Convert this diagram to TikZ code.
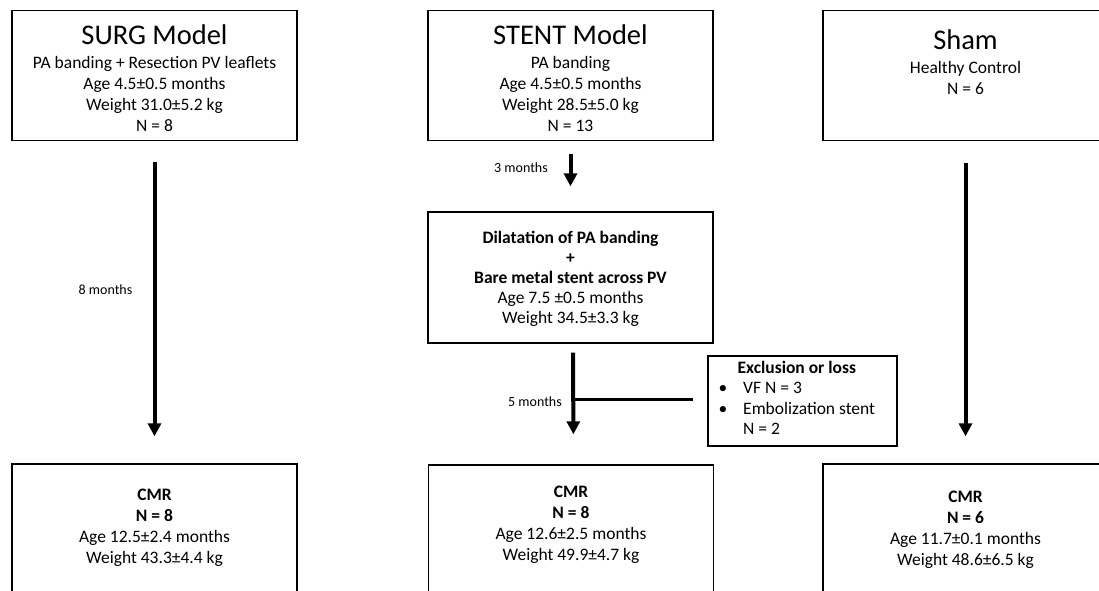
\documentclass[tikz,border=0pt]{standalone}
\usepackage{fontspec}
\setmainfont{Carlito}
\usetikzlibrary{arrows.meta,positioning}

\newcommand\grouptitle[1]{{\fontsize{28.5}{30}\selectfont #1}}

\begin{document}
\begin{tikzpicture}[x=1pt,y=-1pt]
\useasboundingbox (0,0) rectangle (1099,590);
\clip (0,0) rectangle (1099,590);

% boxes
\begin{scope}[every node/.style={draw,line width=1.4pt,minimum width=285,minimum height=130,inner sep=0pt}]
    \node (surg)  at (154.5,75.5) {};
    \node (stent) at (570.5,75.5) {};
    \node (sham)  at (965.5,75.5) {};
    \node (dil)   at (570.5,277.5) [minimum height=131] {};
    \node (excl)  at (802.5,401) [minimum width=189,minimum height=90] {};
    \node (cmr1)  at (154.5,543) [minimum height=158] {};
    \node (cmr2)  at (571,544) [minimum height=158] {};
    \node (cmr3)  at (965.5,543) [minimum height=158] {};
\end{scope}

% box texts
\begin{scope}[every node/.style={font=\fontsize{17.5}{21}\selectfont,align=center,inner sep=0pt}]
    \node [below=15pt of surg.north] (surgtxt) {\grouptitle{SURG Model}\\[2.5pt]
        PA banding + Resection PV leaflets\\ Age 4.5±0.5 months\\ Weight 31.0±5.2 kg\\ N = 8};
    \node [below=15pt of stent.north] (stenttxt) {\grouptitle{STENT Model}\\[2.5pt]
        PA banding\\ Age 4.5±0.5 months\\ Weight 28.5±5.0 kg\\ N = 13};
    \node [below=20pt of sham.north] (shamtxt) {\grouptitle{Sham}\\[3pt]
        Healthy Control\\ N = 6};
    \node [below=20pt of dil.north,font=\fontsize{17.5}{20}\selectfont] (diltxt)
        {\textbf{Dilatation of PA banding}\\ \textbf{+}\\ \textbf{Bare metal stent across PV}\\
         Age 7.5 ±0.5 months\\ Weight 34.5±3.3 kg};
    \node [below right=3.5pt and 11pt of excl.north west,font=\fontsize{17.5}{20.5}\selectfont] (excltxt)
        {\begin{tabular}{@{}l@{\hspace{16pt}}l@{}}
         \multicolumn{2}{c}{\textbf{Exclusion or loss}}\\
         \textbullet & VF N = 3\\
         \textbullet & Embolization stent\\
                     & N = 2
         \end{tabular}};
    \node [below=26pt of cmr1.north] (cmr1txt) {\textbf{CMR}\\ \textbf{N = 8}\\ Age 12.5±2.4 months\\ Weight 43.3±4.4 kg};
    \node [below=22pt of cmr2.north] (cmr2txt) {\textbf{CMR}\\ \textbf{N = 8}\\ Age 12.6±2.5 months\\ Weight 49.9±4.7 kg};
    \node [below=28pt of cmr3.north] (cmr3txt) {\textbf{CMR}\\ \textbf{N = 6}\\ Age 11.7±0.1 months\\ Weight 48.6±6.5 kg};
\end{scope}

% time labels
\begin{scope}[every node/.style={font=\fontsize{14}{16}\selectfont,inner sep=0pt}]
    \node (t8) at (105.5,290) {8 months};
    \node (t3) at (521,168) {3 months};
    \node (t5) at (535,401.5) {5 months};
\end{scope}

\coordinate (split) at (573,399);

\begin{scope}[>={Triangle[width=13pt,length=13pt]},
              every edge/.style={draw,line width=4pt}]
    \path [->] (surg) edge[shorten <=21pt,shorten >=27pt] (cmr1);
    \path [->] (stent) edge[shorten <=13pt,shorten >=25pt] (dil);
    \path [->] ([xshift=2.5pt]dil.south) edge[shorten <=9pt,shorten >=30pt] ([xshift=2.5pt]cmr2.north);
    \path [->] (sham) edge[shorten <=22pt,shorten >=27pt] (cmr3);
    \path [-] (split) edge[line width=3pt,shorten >=14pt] (split -| excl.west);
\end{scope}
\end{tikzpicture}
\end{document}
